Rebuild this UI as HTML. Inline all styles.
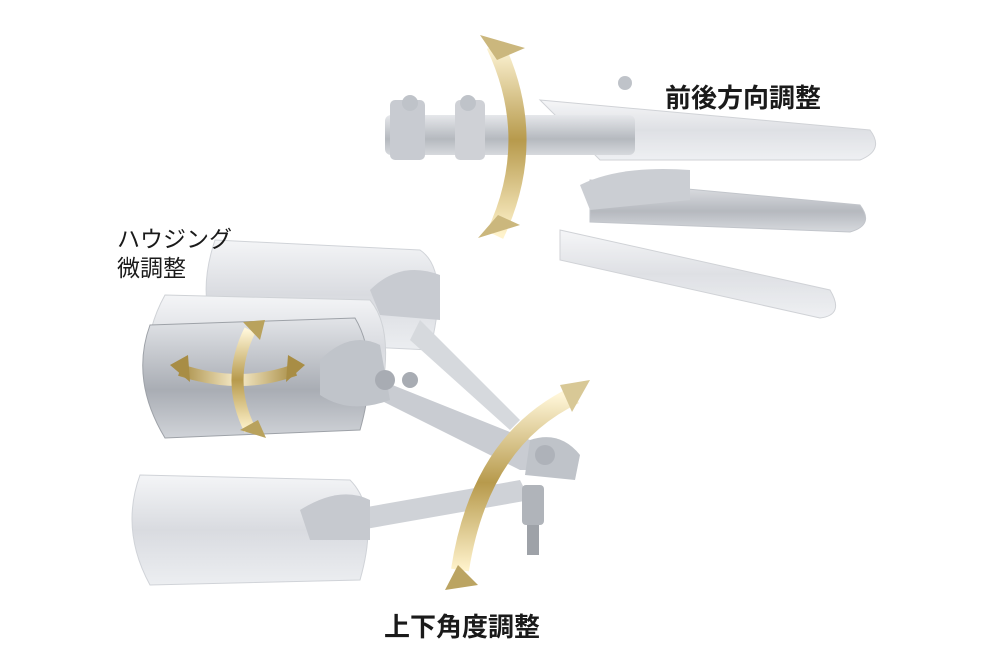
<!DOCTYPE html>
<html><head><meta charset="utf-8"><style>
html,body{margin:0;padding:0;background:#fff;width:1000px;height:667px;overflow:hidden}
.t{position:absolute;font-family:"Liberation Sans","Noto Sans CJK JP",sans-serif;color:#1a1a1a;white-space:nowrap}
</style></head><body>
<svg width="1000" height="667" style="position:absolute;left:0;top:0">
<defs>
<linearGradient id="m" x1="0" y1="0" x2="0" y2="1"><stop offset="0" stop-color="#f4f5f7"/><stop offset=".5" stop-color="#d9dbe0"/><stop offset="1" stop-color="#eceef1"/></linearGradient>
<linearGradient id="md" x1="0" y1="0" x2="0" y2="1"><stop offset="0" stop-color="#e2e4e8"/><stop offset=".6" stop-color="#a9adb4"/><stop offset="1" stop-color="#d0d3d8"/></linearGradient>
<linearGradient id="g" x1="0" y1="0" x2="0" y2="1"><stop offset="0" stop-color="#fff6d8"/><stop offset=".5" stop-color="#b79a4c"/><stop offset="1" stop-color="#fff3cc"/></linearGradient>
<linearGradient id="gh" x1="0" y1="0" x2="1" y2="0"><stop offset="0" stop-color="#a88d45"/><stop offset=".5" stop-color="#f7eccb"/><stop offset="1" stop-color="#a88d45"/></linearGradient>
</defs>
<!-- top right mirror fan -->
<g opacity=".85">
<path d="M540 100 L870 130 Q885 150 860 160 L600 160 Z" fill="url(#m)" stroke="#c8cbd0"/>
<path d="M590 180 L860 205 Q875 225 850 232 L590 222 Z" fill="url(#md)" stroke="#b8bcc2"/>
<path d="M560 230 L830 290 Q845 315 820 318 L560 260 Z" fill="url(#m)" stroke="#c8cbd0"/>
<rect x="385" y="115" width="250" height="40" rx="6" fill="url(#md)"/>
<rect x="390" y="100" width="35" height="60" rx="5" fill="#bfc3c9"/>
<rect x="455" y="100" width="30" height="60" rx="5" fill="#c7cad0"/>
<circle cx="410" cy="103" r="8" fill="#b5b9c0"/><circle cx="468" cy="103" r="8" fill="#b5b9c0"/><circle cx="625" cy="83" r="7" fill="#b5b9c0"/>
<path d="M580 185 Q620 165 690 170 L690 200 L590 210 Z" fill="#c3c6cc"/>
</g>
<!-- left mirrors -->
<path d="M215 240 L420 250 Q450 270 430 350 L220 340 Q195 300 215 240 Z" fill="url(#m)" stroke="#d0d3d8"/>
<path d="M165 295 L370 300 Q395 330 380 400 L150 390 Q140 340 165 295 Z" fill="url(#m)" stroke="#cfd2d6"/>
<path d="M150 325 L355 318 Q380 360 360 430 L165 438 Q130 380 150 325 Z" fill="url(#md)" stroke="#9ea2a8"/>
<path d="M140 475 L350 480 Q380 510 360 580 L150 585 Q120 530 140 475 Z" fill="url(#m)" stroke="#d0d3d8"/>
<!-- arms -->
<path d="M380 380 L530 440 L540 470 L520 470 L380 400 Z" fill="#c9ccd2"/>
<path d="M420 320 L520 420 L510 430 L410 340 Z" fill="#d6d9dd"/>
<path d="M350 510 L520 480 L530 500 L360 530 Z" fill="#cfd2d7"/>
<path d="M530 440 Q560 430 580 455 L575 480 L525 475 Z" fill="#bfc3c9"/>
<rect x="522" y="485" width="22" height="40" rx="4" fill="#b0b4ba"/><rect x="527" y="525" width="12" height="30" fill="#9ea2a8"/>
<circle cx="545" cy="455" r="10" fill="#aeb2b9"/>
<path d="M320 360 Q350 330 380 345 L390 400 Q350 415 320 395 Z" fill="#c0c4ca"/>
<circle cx="385" cy="380" r="10" fill="#a8acb3"/><circle cx="410" cy="380" r="8" fill="#a8acb3"/>
<path d="M370 290 Q400 260 440 275 L440 320 L380 315 Z" fill="#c8cbd1"/>
<path d="M300 510 Q340 485 370 500 L370 540 L310 540 Z" fill="#c6c9cf"/>
<!-- arrows -->
<path d="M495 45 Q540 140 495 235" stroke="url(#g)" stroke-width="18" fill="none"/>
<polygon points="480,35 525,48 497,60" fill="#cbb77d"/><polygon points="478,238 520,225 498,215" fill="#cbb77d"/>
<path d="M460 570 Q480 440 575 395" stroke="url(#g)" stroke-width="18" fill="none"/>
<polygon points="590,380 560,385 572,412" fill="#d8c896"/><polygon points="445,590 478,585 458,565" fill="#bba462"/>
<path d="M180 370 Q240 390 295 370" stroke="url(#gh)" stroke-width="12" fill="none"/>
<polygon points="170,365 188,355 190,382" fill="#a88d45"/><polygon points="305,365 288,355 286,382" fill="#a88d45"/>
<path d="M250 330 Q225 380 250 430" stroke="url(#g)" stroke-width="12" fill="none"/>
<polygon points="265,320 243,322 260,340" fill="#b9a25d"/><polygon points="266,438 240,430 258,420" fill="#b9a25d"/>
</svg>
<div class="t" style="left:665px;top:78px;font-size:26px;font-weight:bold">前後方向調整</div>
<div class="t" style="left:117px;top:225px;font-size:23px;line-height:29px">ハウジング<br>微調整</div>
<div class="t" style="left:384px;top:607px;font-size:26px;font-weight:bold">上下角度調整</div>
</body></html>
